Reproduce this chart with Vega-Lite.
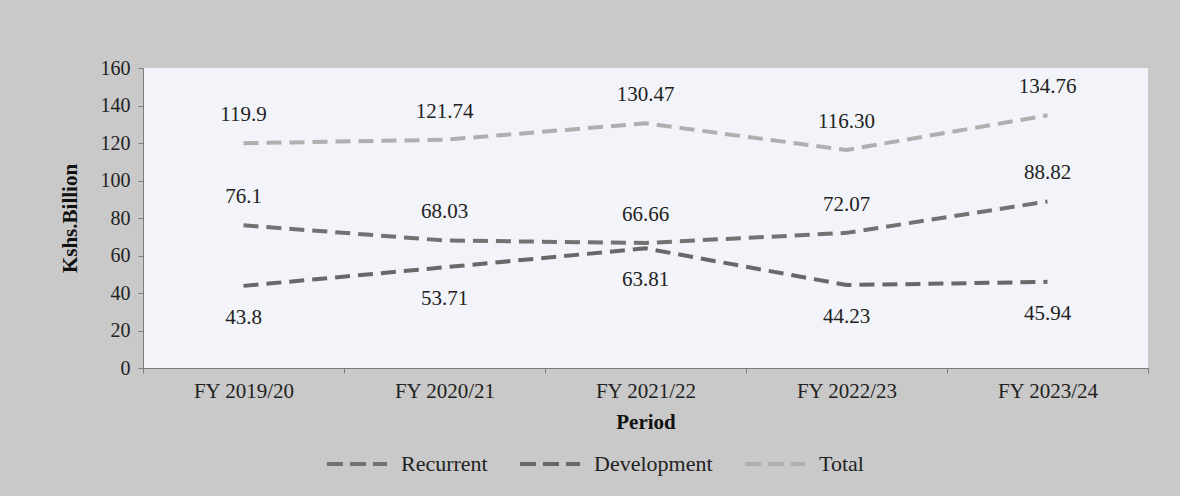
{
  "$schema": "https://vega.github.io/schema/vega-lite/v6.json",
  "width": 1005,
  "height": 300,
  "autosize": {"type": "none"},
  "padding": {"left": 143, "top": 68, "right": 32, "bottom": 128},
  "background": "#c9c9c9",
  "config": {
    "view": {"fill": "#f2f4f9", "stroke": null},
    "font": "Liberation Serif",
    "axis": {"labelFont": "Liberation Serif", "titleFont": "Liberation Serif", "labelColor": "#222222", "titleColor": "#111111", "domainColor": "#7a7a7a", "tickColor": "#7a7a7a", "grid": false},
    "legend": {"labelFont": "Liberation Serif"}
  },
  "data": {
    "values": [
      {"period": "FY 2019/20", "series": "Recurrent", "value": 76.1, "label": "76.1"},
      {"period": "FY 2020/21", "series": "Recurrent", "value": 68.03, "label": "68.03"},
      {"period": "FY 2021/22", "series": "Recurrent", "value": 66.66, "label": "66.66"},
      {"period": "FY 2022/23", "series": "Recurrent", "value": 72.07, "label": "72.07"},
      {"period": "FY 2023/24", "series": "Recurrent", "value": 88.82, "label": "88.82"},
      {"period": "FY 2019/20", "series": "Development", "value": 43.8, "label": "43.8"},
      {"period": "FY 2020/21", "series": "Development", "value": 53.71, "label": "53.71"},
      {"period": "FY 2021/22", "series": "Development", "value": 63.81, "label": "63.81"},
      {"period": "FY 2022/23", "series": "Development", "value": 44.23, "label": "44.23"},
      {"period": "FY 2023/24", "series": "Development", "value": 45.94, "label": "45.94"},
      {"period": "FY 2019/20", "series": "Total", "value": 119.9, "label": "119.9"},
      {"period": "FY 2020/21", "series": "Total", "value": 121.74, "label": "121.74"},
      {"period": "FY 2021/22", "series": "Total", "value": 130.47, "label": "130.47"},
      {"period": "FY 2022/23", "series": "Total", "value": 116.3, "label": "116.30"},
      {"period": "FY 2023/24", "series": "Total", "value": 134.76, "label": "134.76"}
    ]
  },
  "encoding": {
    "x": {
      "field": "period", "type": "nominal", "bandPosition": 0.5,
      "scale": {"type": "band", "paddingInner": 0, "paddingOuter": 0},
      "axis": {"title": "Period", "labelAngle": 0, "labelFontSize": 21, "titleFontSize": 21, "titleFontWeight": "bold", "tickBand": "extent", "tickSize": 5, "labelPadding": 7, "titlePadding": 10}
    },
    "y": {
      "field": "value", "type": "quantitative",
      "scale": {"domain": [0, 160], "nice": false},
      "axis": {"title": "Kshs.Billion", "values": [0, 20, 40, 60, 80, 100, 120, 140, 160], "labelFontSize": 20, "titleFontSize": 21, "titleFontWeight": "bold", "tickSize": 5, "labelPadding": 8, "titlePadding": 20}
    }
  },
  "layer": [
    {
      "mark": {"type": "line", "strokeWidth": 4, "strokeDash": [15, 8]},
      "encoding": {
        "color": {
          "field": "series", "type": "nominal",
          "scale": {"domain": ["Recurrent", "Development", "Total"], "range": ["#727272", "#686868", "#afafaf"]},
          "legend": {
            "title": null, "orient": "none", "direction": "horizontal", "legendX": 182, "legendY": 364,
            "symbolType": "stroke", "symbolSize": 3600, "symbolStrokeWidth": 4, "symbolDash": [16, 7],
            "labelFontSize": 22, "labelColor": "#222222", "labelOffset": 12, "columnPadding": 24
          }
        }
      }
    },
    {
      "transform": [{"filter": "datum.series !== 'Development'"}],
      "mark": {"type": "text", "fontSize": 21, "dy": -28, "baseline": "middle", "color": "#222222"},
      "encoding": {"text": {"field": "label"}}
    },
    {
      "transform": [{"filter": "datum.series === 'Development'"}],
      "mark": {"type": "text", "fontSize": 21, "dy": 32, "baseline": "middle", "color": "#222222"},
      "encoding": {"text": {"field": "label"}}
    }
  ]
}
